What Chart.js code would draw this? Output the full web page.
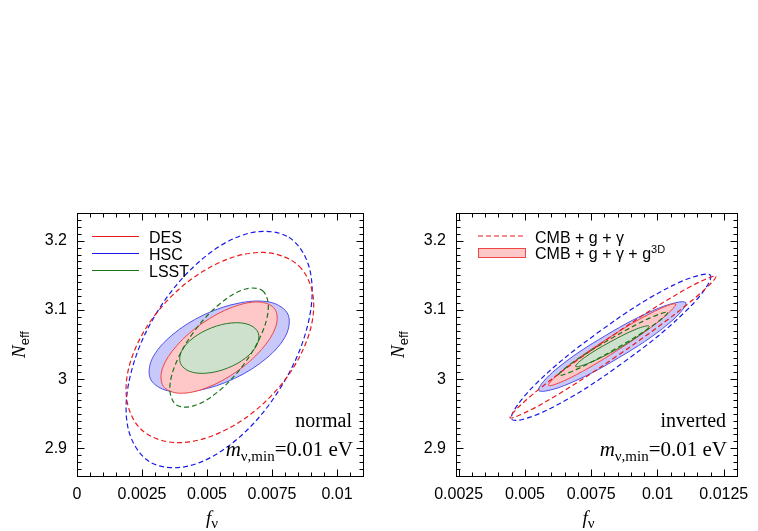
<!DOCTYPE html>
<html>
<head>
<meta charset="utf-8">
<script src="https://cdn.jsdelivr.net/npm/chart.js@4.4.1/dist/chart.umd.min.js"></script>
<style>
  html, body { margin: 0; padding: 0; background: #fff; }
  #wrap { position: relative; width: 758px; height: 531px; }
  .panel { position: absolute; top: 0; }
</style>
</head>
<body>
<div id="wrap">
  <div class="panel" style="left:0"><canvas id="normalChart" width="380" height="531"></canvas></div>
  <div class="panel" style="left:380px"><canvas id="invertedChart" width="378" height="531"></canvas></div>
</div>
<script>
// survey names and probe combinations
var surveys = ['DES', 'HSC', 'LSST'];
var probes = ['CMB + g + \u03b3', 'CMB + g + \u03b3 + g'];

// axis ticks
var neffTicks = [2.9, 3, 3.1, 3.2];
var neffLabels = ['2.9', '3', '3.1', '3.2'];
var normalXTicks = [0, 0.0025, 0.005, 0.0075, 0.01];
var normalXLabels = ['0', '0.0025', '0.005', '0.0075', '0.01'];
var invertedXTicks = [0.0025, 0.005, 0.0075, 0.01, 0.0125];
var invertedXLabels = ['0.0025', '0.005', '0.0075', '0.01', '0.0125'];

// contour points [f_nu, N_eff] -- normal hierarchy
var normalDesDashed = [[0.00854, 3.1633], [0.00910, 3.1121], [0.00870, 3.0431], [0.00744, 2.9747],
    [0.00565, 2.9254], [0.00383, 2.9082], [0.00245, 2.9279], [0.00189, 2.9791],
    [0.00229, 3.0481], [0.00355, 3.1165], [0.00534, 3.1659], [0.00716, 3.1830]];
var normalHscDashed = [[0.00815, 3.2048], [0.00897, 3.1555], [0.00886, 3.0760], [0.00783, 2.9876],
    [0.00618, 2.9139], [0.00433, 2.8748], [0.00279, 2.8806], [0.00196, 2.9299],
    [0.00208, 3.0094], [0.00310, 3.0979], [0.00476, 3.1716], [0.00660, 3.2107]];
var normalLsstDashed = [[0.00713, 3.1280], [0.00736, 3.1039], [0.00709, 3.0643], [0.00638, 3.0196],
    [0.00543, 2.9820], [0.00448, 2.9613], [0.00380, 2.9633], [0.00357, 2.9873],
    [0.00385, 3.0269], [0.00456, 3.0716], [0.00551, 3.1093], [0.00645, 3.1299]];
var normalDesFilled = [[0.00761, 3.1012], [0.00765, 3.0762], [0.00710, 3.0429], [0.00612, 3.0103],
    [0.00496, 2.9871], [0.00393, 2.9796], [0.00332, 2.9897], [0.00328, 3.0148],
    [0.00383, 3.0481], [0.00482, 3.0807], [0.00598, 3.1039], [0.00700, 3.1114]];
var normalHscFilled = [[0.00811, 3.0939], [0.00805, 3.0645], [0.00730, 3.0305], [0.00605, 3.0008],
    [0.00465, 2.9835], [0.00348, 2.9832], [0.00283, 2.9999], [0.00289, 3.0293],
    [0.00365, 3.0634], [0.00489, 3.0930], [0.00629, 3.1103], [0.00747, 3.1107]];
var normalLsstFilled = [[0.00697, 3.0670], [0.00692, 3.0495], [0.00649, 3.0307], [0.00578, 3.0158],
    [0.00499, 3.0086], [0.00433, 3.0112], [0.00398, 3.0228], [0.00402, 3.0403],
    [0.00446, 3.0591], [0.00517, 3.0740], [0.00596, 3.0812], [0.00662, 3.0786]];

// inverted hierarchy
var invertedDesDashed = [[0.01220, 3.1485], [0.01120, 3.1104], [0.00852, 3.0347], [0.00572, 2.9659],
    [0.00444, 2.9442], [0.00543, 2.9823], [0.00812, 3.0580], [0.01092, 3.1268]];
var invertedHscDashed = [[0.01200, 3.1499], [0.01120, 3.1032], [0.00867, 3.0229], [0.00589, 2.9562],
    [0.00450, 2.9420], [0.00530, 2.9888], [0.00782, 3.0690], [0.01060, 3.1358]];
var invertedLsstDashed = [[0.01038, 3.0964], [0.00985, 3.0781], [0.00842, 3.0438], [0.00693, 3.0137],
    [0.00626, 3.0053], [0.00679, 3.0237], [0.00822, 3.0579], [0.00970, 3.0881]];
var invertedDesFilled = [[0.01069, 3.1085], [0.01009, 3.0847], [0.00844, 3.0404], [0.00670, 3.0016],
    [0.00589, 2.9909], [0.00649, 3.0147], [0.00814, 3.0590], [0.00988, 3.0978]];
var invertedHscFilled = [[0.01107, 3.1104], [0.01043, 3.0804], [0.00854, 3.0309], [0.00650, 2.9909],
    [0.00552, 2.9837], [0.00616, 3.0137], [0.00805, 3.0632], [0.01009, 3.1032]];
var invertedLsstFilled = [[0.00968, 3.0766], [0.00933, 3.0637], [0.00838, 3.0413], [0.00737, 3.0225],
    [0.00691, 3.0183], [0.00725, 3.0312], [0.00821, 3.0536], [0.00921, 3.0724]];

var lineColors = ['rgb(235,25,25)', 'rgb(25,25,235)', 'rgb(25,115,25)'];
var edgeColors = ['rgb(240,70,70)', 'rgb(80,80,230)', 'rgb(40,120,40)'];
var fillColors = ['rgb(255,200,200)', 'rgb(200,200,250)', 'rgb(205,225,205)'];

var SANS = '"Liberation Sans", Arial, sans-serif';
var SERIF = '"Liberation Serif", "Times New Roman", serif';

function contour(points, k, filled, order) {
    return {
        data: points.map(function (p) { return {x: p[0], y: p[1]}; }),
        borderColor: filled ? edgeColors[k] : lineColors[k],
        backgroundColor: filled ? fillColors[k] : 'transparent',
        fill: filled ? 'shape' : false,
        borderWidth: filled ? 1 : 1.2,
        borderDash: filled ? [] : [5, 3],
        // smoother spline for fewer points
        tension: points.length > 8 ? 0.35 : 0.375,
        pointRadius: 0,
        order: order
    };
}

// make each contour a closed smooth curve
var closeLoops = {
    id: 'closeLoops',
    afterDatasetsUpdate: function (chart) {
        chart.data.datasets.forEach(function (d, i) {
            var line = chart.getDatasetMeta(i).dataset;
            if (line) {
                line._loop = true;
                line._fullLoop = true;
                delete line._segments;
            }
        });
    }
};

function drawRuns(ctx, runs, x, y, align) {
    var w = 0;
    runs.forEach(function (r) { ctx.font = r.font; w += ctx.measureText(r.text).width; });
    var cx = align === 'right' ? x - w : (align === 'center' ? x - w / 2 : x);
    runs.forEach(function (r) {
        ctx.font = r.font;
        ctx.fillText(r.text, cx, y + (r.dy || 0));
        cx += ctx.measureText(r.text).width;
    });
}

function frameAndText(cfg) {
    return {
        id: 'frameAndText',
        afterDraw: function (chart) {
            var ctx = chart.ctx, a = chart.chartArea;
            var xs = chart.scales.x, ys = chart.scales.y;
            var L = Math.round(a.left) + 0.5, R = Math.round(a.right) + 0.5;
            var T = Math.round(a.top) + 0.5, B = Math.round(a.bottom) + 0.5;
            ctx.save();
            ctx.strokeStyle = '#000';
            ctx.lineWidth = 1;
            ctx.strokeRect(L, T, R - L, B - T);

            ctx.beginPath();
            var k, v, p, len;
            for (k = Math.ceil(xs.min / cfg.xMinor - 1e-6); k * cfg.xMinor <= xs.max + 1e-9; k++) {
                v = k * cfg.xMinor;
                len = cfg.xTicks.some(function (t) { return Math.abs(t - v) < cfg.xMinor / 10; }) ? 7 : 4;
                p = Math.round(xs.getPixelForValue(v)) + 0.5;
                ctx.moveTo(p, B); ctx.lineTo(p, B - len);
                ctx.moveTo(p, T); ctx.lineTo(p, T + len);
            }
            for (k = Math.ceil(ys.min / 0.01 - 1e-6); k * 0.01 <= ys.max + 1e-9; k++) {
                v = k * 0.01;
                len = neffTicks.some(function (t) { return Math.abs(t - v) < 0.001; }) ? 7 : 4;
                p = Math.round(ys.getPixelForValue(v)) + 0.5;
                ctx.moveTo(L, p); ctx.lineTo(L + len, p);
                ctx.moveTo(R, p); ctx.lineTo(R - len, p);
            }
            ctx.stroke();

            ctx.fillStyle = '#000';
            ctx.textAlign = 'left';
            ctx.textBaseline = 'alphabetic';

            // axis titles
            drawRuns(ctx, [
                {text: 'f', font: 'italic 19px ' + SERIF},
                {text: '\u03bd', font: '15px ' + SERIF, dy: 4}
            ], (a.left + a.right) / 2 - 8, 524, 'center');
            ctx.save();
            ctx.translate(a.left - 52, (a.top + a.bottom) / 2);
            ctx.rotate(-Math.PI / 2);
            drawRuns(ctx, [
                {text: 'N', font: 'italic 19px ' + SERIF},
                {text: 'eff', font: '13px ' + SANS, dy: 4}
            ], 0, 0, 'center');
            ctx.restore();

            // hierarchy and mass
            drawRuns(ctx, [{text: cfg.hierarchy, font: '20px ' + SERIF}], a.right - 11, 427, 'right');
            drawRuns(ctx, [
                {text: 'm', font: 'italic 21px ' + SERIF},
                {text: '\u03bd,min', font: '15px ' + SERIF, dy: 5},
                {text: '=0.01 eV', font: '21px ' + SERIF}
            ], a.right - 10, 456, 'right');

            // legend
            var lx = a.left + cfg.legendX;
            if (cfg.legend === 'surveys') {
                surveys.forEach(function (name, i) {
                    var ly = 236.5 + i * 17;
                    ctx.strokeStyle = lineColors[i];
                    ctx.lineWidth = 1.2;
                    ctx.beginPath();
                    ctx.moveTo(lx, ly); ctx.lineTo(lx + 47, ly);
                    ctx.stroke();
                    drawRuns(ctx, [{text: name, font: '16px ' + SANS}], lx + 57, ly + 6, 'left');
                });
            } else {
                ctx.strokeStyle = lineColors[0];
                ctx.lineWidth = 1.2;
                ctx.setLineDash([5, 3]);
                ctx.beginPath();
                ctx.moveTo(lx, 236); ctx.lineTo(lx + 47, 236);
                ctx.stroke();
                ctx.setLineDash([]);
                ctx.fillStyle = fillColors[0];
                ctx.fillRect(lx, 248, 47, 9);
                ctx.strokeStyle = edgeColors[0];
                ctx.lineWidth = 1;
                ctx.strokeRect(lx + 0.5, 248.5, 47, 9);
                ctx.fillStyle = '#000';
                drawRuns(ctx, [{text: probes[0], font: '16px ' + SANS}], lx + 57, 242.5, 'left');
                drawRuns(ctx, [
                    {text: probes[1], font: '16px ' + SANS},
                    {text: '3D', font: '11px ' + SANS, dy: -6}
                ], lx + 57, 258.5, 'left');
            }
            ctx.restore();
        }
    };
}

function makeChart(id, sets, xr, xTicks, xLabels, cfg) {
    var datasets = [
        contour(sets[0], 0, false, 2),
        contour(sets[1], 1, false, 3),
        contour(sets[2], 2, false, 1),
        contour(sets[3], 0, true, 5),
        contour(sets[4], 1, true, 6),
        contour(sets[5], 2, true, 4)
    ];
    return new Chart(document.getElementById(id).getContext('2d'), {
        type: 'line',
        data: {datasets: datasets},
        plugins: [closeLoops, frameAndText(cfg)],
        options: {
            responsive: false,
            animation: false,
            events: [],
            layout: {padding: {top: 213, right: cfg.padRight, left: 0, bottom: 0}},
            plugins: {legend: {display: false}, tooltip: {enabled: false}},
            scales: {
                x: {
                    type: 'linear',
                    min: xr[0],
                    max: xr[1],
                    grid: {display: false, drawTicks: false},
                    border: {display: false},
                    afterBuildTicks: function (s) { s.ticks = xTicks.map(function (v) { return {value: v}; }); },
                    afterFit: function (s) { s.height = 55; },
                    ticks: {
                        padding: 9,
                        color: '#000',
                        autoSkip: false,
                        maxRotation: 0,
                        font: {family: SANS, size: 16},
                        callback: function (v, i) { return xLabels[i]; }
                    }
                },
                y: {
                    type: 'linear',
                    min: 2.86,
                    max: 3.24,
                    grid: {display: false, drawTicks: false},
                    border: {display: false},
                    afterBuildTicks: function (s) { s.ticks = neffTicks.map(function (v) { return {value: v}; }); },
                    afterFit: function (s) { s.width = cfg.yWidth; },
                    ticks: {
                        padding: 10,
                        color: '#000',
                        font: {family: SANS, size: 16},
                        callback: function (v, i) { return neffLabels[i]; }
                    }
                }
            }
        }
    });
}

var chart1 = makeChart('normalChart',
    [normalDesDashed, normalHscDashed, normalLsstDashed, normalDesFilled, normalHscFilled, normalLsstFilled],
    [0, 0.011], normalXTicks, normalXLabels,
    {xTicks: normalXTicks, xMinor: 0.0005, hierarchy: 'normal', legend: 'surveys', legendX: 15, yWidth: 77, padRight: 17});

var chart2 = makeChart('invertedChart',
    [invertedDesDashed, invertedHscDashed, invertedLsstDashed, invertedDesFilled, invertedHscFilled, invertedLsstFilled],
    [0.0024, 0.013], invertedXTicks, invertedXLabels,
    {xTicks: invertedXTicks, xMinor: 0.0005, hierarchy: 'inverted', legend: 'probes', legendX: 22, yWidth: 76, padRight: 16});
</script>
</body>
</html>
